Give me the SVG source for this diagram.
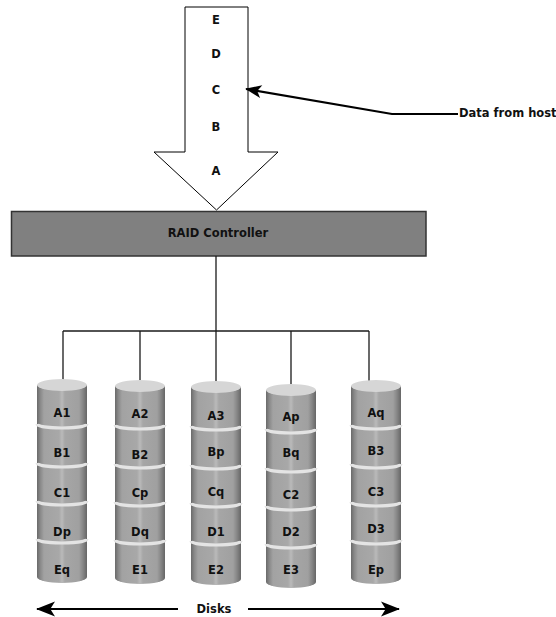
<svg xmlns="http://www.w3.org/2000/svg" xmlns:xlink="http://www.w3.org/1999/xlink" width="556" height="617" viewBox="0 0 556 617">
<style>
text{font-family:"DejaVu Sans","Verdana",sans-serif;font-weight:bold;font-size:11.5px;fill:#111;text-anchor:middle}
.wire{fill:none;stroke:#1a1a1a;stroke-width:1.3}
.arr{fill:none;stroke:#000;stroke-width:2}
.band{fill:none;stroke:#e4e4e4;stroke-width:3}
</style>
<defs>
<linearGradient id="cg" x1="0" y1="0" x2="1" y2="0">
<stop offset="0" stop-color="#6a6a6a"/>
<stop offset="0.07" stop-color="#8a8a8a"/>
<stop offset="0.14" stop-color="#a2a2a2"/>
<stop offset="0.44" stop-color="#a8a8a8"/>
<stop offset="0.5" stop-color="#bababa"/>
<stop offset="0.56" stop-color="#a6a6a6"/>
<stop offset="0.84" stop-color="#a0a0a0"/>
<stop offset="0.92" stop-color="#868686"/>
<stop offset="1" stop-color="#666666"/>
</linearGradient>
<marker id="ahL" viewBox="0 0 20 16" refX="19" refY="8" markerWidth="19" markerHeight="16" markerUnits="userSpaceOnUse" orient="auto">
<path d="M0,0 L20,8 L0,16 L5,8 z" fill="#000"/>
</marker>
<marker id="ahS" viewBox="0 0 20 16" refX="19" refY="8" markerWidth="17" markerHeight="13" markerUnits="userSpaceOnUse" orient="auto">
<path d="M0,0 L20,8 L0,16 L5,8 z" fill="#000"/>
</marker>
<g id="cyl">
<rect x="0" y="6" width="50" height="192" fill="url(#cg)"/>
<ellipse cx="25" cy="198" rx="25" ry="6" fill="url(#cg)"/>
<ellipse cx="25" cy="6" rx="25" ry="6" fill="#d6d6d6"/>
<path class="band" d="M0,45 A25,4 0 0 0 50,45"/>
<path class="band" d="M0,84 A25,4 0 0 0 50,84"/>
<path class="band" d="M0,122 A25,4 0 0 0 50,122"/>
<path class="band" d="M0,160 A25,4 0 0 0 50,160"/>
</g>
</defs>

<g id="data-arrow">
<polygon points="185,7 248,7 248,152 278,152 216.5,210 154,152 185,152" fill="#fff" stroke="#000" stroke-width="1"/>
<text x="216" y="24">E</text>
<text x="216" y="58">D</text>
<text x="216" y="94">C</text>
<text x="216" y="131">B</text>
<text x="216" y="175">A</text>
</g>

<g id="raid-controller">
<rect x="11.5" y="211.5" width="414.5" height="44.5" fill="#808080" stroke="#333" stroke-width="1.5"/>
<text x="218" y="237">RAID Controller</text>
</g>

<g id="connectors">
<path class="wire" d="M216,256 V331"/>
<path class="wire" d="M63,331 H369"/>
<path class="wire" d="M63,331 V380"/>
<path class="wire" d="M140,331 V381"/>
<path class="wire" d="M216,331 V382"/>
<path class="wire" d="M291,331 V385"/>
<path class="wire" d="M369,331 V381"/>
<path class="arr" d="M458,114 L392,114 L246,89" marker-end="url(#ahS)"/>
<path class="arr" d="M178,609 L37,609" marker-end="url(#ahL)"/>
<path class="arr" d="M248,609 L399,609" marker-end="url(#ahL)"/>
</g>

<g id="host-label">
<text x="459" y="116.5" style="text-anchor:start">Data from host</text>
</g>

<g id="disk1" transform="translate(37,379)">
<use xlink:href="#cyl"/>
<text x="25" y="38">A1</text>
<text x="25" y="78">B1</text>
<text x="25" y="118">C1</text>
<text x="25" y="157">Dp</text>
<text x="25" y="195">Eq</text>
</g>
<g id="disk2" transform="translate(115,380)">
<use xlink:href="#cyl"/>
<text x="25" y="38">A2</text>
<text x="25" y="79">B2</text>
<text x="25" y="117">Cp</text>
<text x="25" y="156">Dq</text>
<text x="25" y="194">E1</text>
</g>
<g id="disk3" transform="translate(191,381)">
<use xlink:href="#cyl"/>
<text x="25" y="39">A3</text>
<text x="25" y="75">Bp</text>
<text x="25" y="115">Cq</text>
<text x="25" y="155">D1</text>
<text x="25" y="193">E2</text>
</g>
<g id="disk4" transform="translate(266,384)">
<use xlink:href="#cyl"/>
<text x="25" y="37">Ap</text>
<text x="25" y="73">Bq</text>
<text x="25" y="115">C2</text>
<text x="25" y="152">D2</text>
<text x="25" y="190">E3</text>
</g>
<g id="disk5" transform="translate(351,380)">
<use xlink:href="#cyl"/>
<text x="25" y="37">Aq</text>
<text x="25" y="75">B3</text>
<text x="25" y="116">C3</text>
<text x="25" y="153">D3</text>
<text x="25" y="194">Ep</text>
</g>

<g id="disks-label">
<text x="214" y="613">Disks</text>
</g>
</svg>
